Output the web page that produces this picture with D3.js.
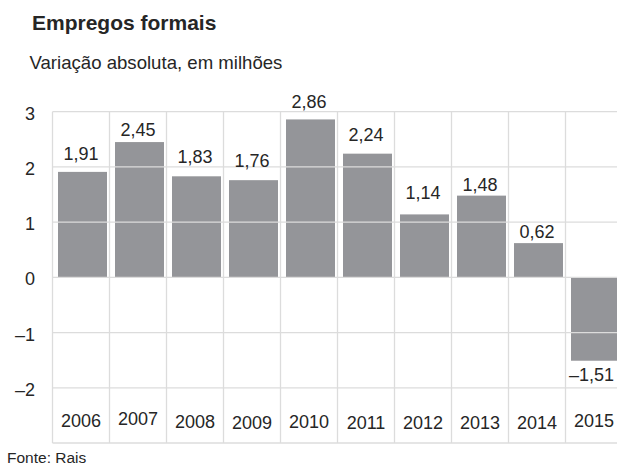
<!DOCTYPE html>
<html><head><meta charset="utf-8">
<script src="https://cdn.jsdelivr.net/npm/d3@7"></script>
<style>
html,body{margin:0;padding:0;background:#fff;overflow:hidden}
svg{display:block}
text{font-family:"Liberation Sans",Arial,sans-serif;fill:#262626}
</style></head>
<body>
<svg id="c" width="617" height="465"></svg>
<script>
const years = ["2006","2007","2008","2009","2010","2011","2012","2013","2014","2015"];
const values = [1.91, 2.45, 1.83, 1.76, 2.86, 2.24, 1.14, 1.48, 0.62, -1.51];
const valueLabels = ["1,91","2,45","1,83","1,76","2,86","2,24","1,14","1,48","0,62","–1,51"];
const yTicks = [3, 2, 1, 0, -1, -2];
const yTickLabels = ["3","2","1","0","–1","–2"];
// label placement tweaks (gap between bar end and label, px)
const labelGap = [12, 6, 13, 13, 11, 13, 15, 5, 5, 7];
const yearDy = [-1.5, -3, -0.5, 1, 0, 0.5, 0.5, 0.5, 1, -1];

const W = 617, H = 465;
const svg = d3.select("#c");

const x = d3.scaleBand().domain(years).range([52.5, 52.5 + 57 * years.length]).padding(0);
const y = d3.scaleLinear().domain([-3, 3]).range([443, 111.7]);

// title
svg.append("text").attr("x", 32).attr("y", 30).attr("font-size", 21).attr("font-weight", "bold").text("Empregos formais");
svg.append("text").attr("x", 29.5).attr("y", 69).attr("font-size", 18.6).text("Variação absoluta, em milhões");
svg.append("text").attr("x", 7).attr("y", 462.8).attr("font-size", 15.5).text("Fonte: Rais");

// bars
svg.append("g").selectAll("rect").data(values).join("rect")
  .attr("x", (d, i) => x(years[i]) + 5.5)
  .attr("width", x.bandwidth() - 8)
  .attr("y", d => y(Math.max(0, d)))
  .attr("height", d => Math.abs(y(d) - y(0)))
  .attr("fill", "#949599");

// grid
const grid = svg.append("g").attr("stroke", "#dcdcdc").attr("stroke-width", 1.3);
grid.selectAll("line.h").data(d3.range(-3, 4)).join("line").attr("class", "h")
  .attr("x1", x.range()[0]).attr("x2", x.range()[1])
  .attr("y1", d => y(d)).attr("y2", d => y(d));
grid.selectAll("line.v").data(years).join("line").attr("class", "v")
  .attr("x1", d => x(d)).attr("x2", d => x(d))
  .attr("y1", y(3)).attr("y2", y(-3));

// y tick labels
svg.append("g").selectAll("text").data(yTicks).join("text")
  .attr("x", 35).attr("y", d => y(d) + 8)
  .attr("text-anchor", "end").attr("font-size", 18)
  .text((d, i) => yTickLabels[i]);

function fitX(sel, cx) {
  sel.each(function(d, i) {
    const t = d3.select(this);
    const w = this.getComputedTextLength();
    let c = cx(d, i);
    if (c + w / 2 > W - 3) c = W - 3 - w / 2;
    t.attr("x", c);
  });
}

// value labels
const vl = svg.append("g").selectAll("text").data(values).join("text")
  .attr("text-anchor", "middle").attr("font-size", 18)
  .attr("y", (d, i) => d >= 0 ? y(d) - labelGap[i] : y(d) + labelGap[i] + 13)
  .text((d, i) => valueLabels[i]);
fitX(vl, (d, i) => x(years[i]) + x.bandwidth() / 2);

// year labels
const yl = svg.append("g").selectAll("text").data(years).join("text")
  .attr("text-anchor", "middle").attr("font-size", 18)
  .attr("y", (d, i) => 428 + yearDy[i])
  .text(d => d);
fitX(yl, d => x(d) + x.bandwidth() / 2);
</script>
</body></html>
